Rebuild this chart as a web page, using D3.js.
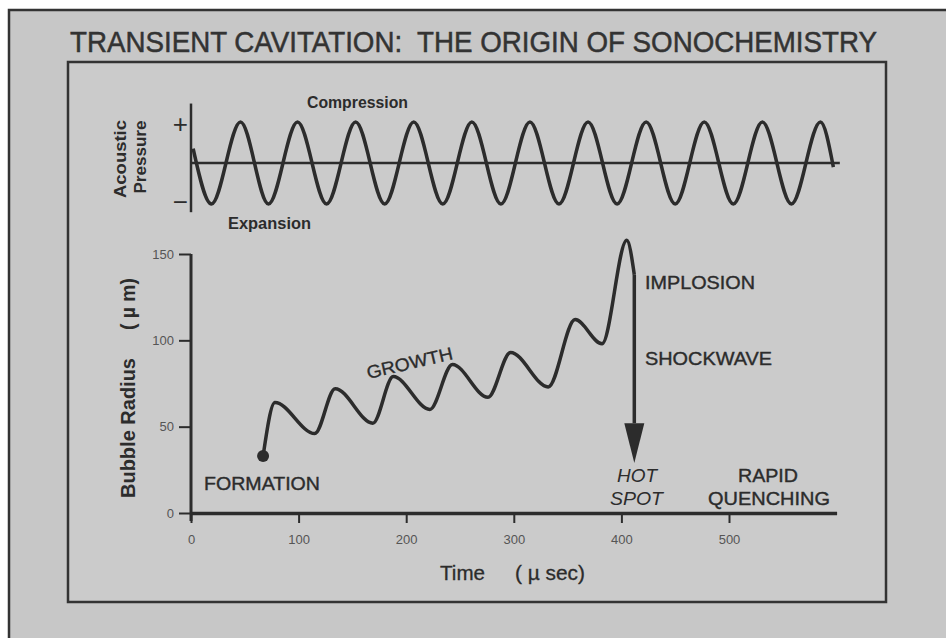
<!DOCTYPE html>
<html>
<head>
<meta charset="utf-8">
<script src="https://cdn.jsdelivr.net/npm/d3@7"></script>
<style>
  html, body { margin: 0; padding: 0; background: #fff; }
  svg { display: block; font-family: "Liberation Sans", Arial, sans-serif; }
  text { white-space: pre; }
</style>
</head>
<body>
<div id="chart"></div>
<script>
// values
const timeTicks = [0, 100, 200, 300, 400, 500];
const radiusTicks = [0, 50, 100, 150];

// acoustic pressure: turning points of the wave (time in µs, relative pressure)
const pressureTime = [2, 19, 46, 72, 99, 126, 153, 180, 207, 234, 261, 288, 315, 342, 369, 396, 423, 450, 477, 504, 531, 558, 585, 597];
const pressureValue = [0.35, -1, 1, -1, 1, -1, 1, -1, 1, -1, 1, -1, 1, -1, 1, -1, 1, -1, 1, -1, 1, -1, 1, -0.1];
const pressureTicks = [0.95, -0.95];
const pressureLabels = ["+", "\u2212"];

// bubble radius (µm) against time (µs)
const radiusTime = [67, 78, 115, 134, 169, 188, 222, 243, 276, 297, 332, 357, 382, 405, 412];
const radiusValue = [33, 64, 46, 72, 52, 79, 60, 86, 67, 93, 73, 112, 98, 158, 138];
// implosion arrow: from - to radius at the collapse time
const collapseTime = 412;
const collapseFrom = 138, collapseTo = 29, headFrom = 52;

const width = 946, height = 638;
const ink = "#2c2c2c";

const svg = d3.select("#chart").append("svg")
  .attr("width", width)
  .attr("height", height);

// paper
svg.append("rect").attr("width", width).attr("height", height).attr("fill", "#fff");
svg.append("rect").attr("x", 9).attr("y", 10).attr("width", width - 9).attr("height", height - 10)
  .attr("fill", "#c7c7c7");
svg.append("path").attr("d", `M9,${height} L9,10 L${width},10`)
  .attr("fill", "none").attr("stroke", "#333").attr("stroke-width", 2.5);

// title
svg.append("text")
  .attr("x", 70).attr("y", 52)
  .attr("font-size", 29)
  .attr("fill", "#333").attr("stroke", "#333").attr("stroke-width", 0.5)
  .attr("textLength", 807)
  .attr("lengthAdjust", "spacingAndGlyphs")
  .text("TRANSIENT CAVITATION:  THE ORIGIN OF SONOCHEMISTRY");

// inner panel
svg.append("rect")
  .attr("x", 68).attr("y", 62).attr("width", 818).attr("height", 540)
  .attr("fill", "#cbcbcb")
  .attr("stroke", "#333").attr("stroke-width", 2.5);

// scales
const x = d3.scaleLinear().domain([0, 600]).range([191, 836.6]);
const yP = d3.scaleLinear().domain([-1, 1]).range([204, 122]);
const yR = d3.scaleLinear().domain([0, 150]).range([513, 254]);

// ---- acoustic pressure panel ----
svg.append("line")
  .attr("x1", x(0)).attr("x2", x(0))
  .attr("y1", yP(1.45)).attr("y2", yP(-1.2))
  .attr("stroke", ink).attr("stroke-width", 2.5);

svg.append("line")
  .attr("x1", x(0)).attr("x2", x(603))
  .attr("y1", yP(0)).attr("y2", yP(0))
  .attr("stroke", ink).attr("stroke-width", 2.5);

svg.selectAll(".ptick")
  .data(pressureTicks)
  .enter().append("text")
  .attr("class", "ptick")
  .attr("x", x(0) - 3)
  .attr("y", d => yP(d))
  .attr("dy", "0.35em")
  .attr("text-anchor", "end")
  .attr("font-size", 26)
  .attr("fill", ink)
  .text((d, i) => pressureLabels[i]);

const pressurePts = pressureTime.map((t, i) => [t, pressureValue[i]]);
svg.append("path")
  .datum(pressurePts)
  .attr("fill", "none")
  .attr("stroke", ink)
  .attr("stroke-width", 3.5)
  .attr("d", d3.line().x(d => x(d[0])).y(d => yP(d[1])).curve(d3.curveMonotoneX));

svg.append("text").attr("x", 307).attr("y", 108)
  .attr("font-size", 17).attr("font-weight", "bold").attr("fill", ink)
  .attr("textLength", 101).attr("lengthAdjust", "spacingAndGlyphs")
  .text("Compression");
svg.append("text").attr("x", 228).attr("y", 229)
  .attr("font-size", 17).attr("font-weight", "bold").attr("fill", ink)
  .attr("textLength", 83).attr("lengthAdjust", "spacingAndGlyphs")
  .text("Expansion");

svg.append("text")
  .attr("transform", "translate(126,159) rotate(-90)")
  .attr("text-anchor", "middle")
  .attr("font-size", 17).attr("font-weight", "bold").attr("fill", ink)
  .attr("textLength", 78).attr("lengthAdjust", "spacingAndGlyphs")
  .text("Acoustic");
svg.append("text")
  .attr("transform", "translate(146,157) rotate(-90)")
  .attr("text-anchor", "middle")
  .attr("font-size", 17).attr("font-weight", "bold").attr("fill", ink)
  .attr("textLength", 73).attr("lengthAdjust", "spacingAndGlyphs")
  .text("Pressure");

// ---- bubble radius panel ----
const yAxis = svg.append("g")
  .attr("transform", `translate(${x(0)},0)`)
  .call(d3.axisLeft(yR).tickValues(radiusTicks).tickSize(12).tickSizeOuter(0).tickPadding(5));
yAxis.select(".domain").attr("stroke", ink).attr("stroke-width", 3)
  .attr("d", `M0,${yR(0) + 8}V${yR(150)}`);
yAxis.selectAll(".tick line").attr("stroke", ink).attr("stroke-width", 2);
yAxis.selectAll(".tick text").attr("font-size", 13).attr("fill", "#555")
  .attr("font-family", "Liberation Sans, Arial, sans-serif");

const xAxis = svg.append("g")
  .attr("transform", `translate(0,${yR(0)})`)
  .call(d3.axisBottom(x).tickValues(timeTicks).tickSize(10).tickSizeOuter(0).tickPadding(12));
xAxis.select(".domain").attr("stroke", ink).attr("stroke-width", 3.5);
xAxis.selectAll(".tick line").attr("stroke", ink).attr("stroke-width", 2);
xAxis.selectAll(".tick text").attr("font-size", 13).attr("fill", "#555")
  .attr("font-family", "Liberation Sans, Arial, sans-serif");

const radiusPts = radiusTime.map((t, i) => [t, radiusValue[i]]);
svg.append("path")
  .datum(radiusPts)
  .attr("fill", "none")
  .attr("stroke", ink)
  .attr("stroke-width", 3.5)
  .attr("stroke-linejoin", "round")
  .attr("d", d3.line().x(d => x(d[0])).y(d => yR(d[1])).curve(d3.curveMonotoneX));

svg.append("circle")
  .attr("cx", x(radiusTime[0])).attr("cy", yR(radiusValue[0]))
  .attr("r", 6).attr("fill", ink);

// implosion arrow
svg.append("line")
  .attr("x1", x(collapseTime)).attr("x2", x(collapseTime))
  .attr("y1", yR(collapseFrom)).attr("y2", yR(headFrom))
  .attr("stroke", ink).attr("stroke-width", 3.5);
svg.append("path")
  .attr("d", `M${x(collapseTime) - 10},${yR(headFrom)} L${x(collapseTime) + 10},${yR(headFrom)} L${x(collapseTime)},${yR(collapseTo)} Z`)
  .attr("fill", ink);

// annotations
const notes = [
  { t: "FORMATION", x: 204, y: 490, w: 116 },
  { t: "IMPLOSION", x: 645, y: 289, w: 110 },
  { t: "SHOCKWAVE", x: 645, y: 365, w: 127 },
  { t: "RAPID", x: 738, y: 482, w: 60 },
  { t: "QUENCHING", x: 708, y: 505, w: 122 }
];
svg.selectAll(".note")
  .data(notes)
  .enter().append("text")
  .attr("class", "note")
  .attr("x", d => d.x).attr("y", d => d.y)
  .attr("font-size", 19).attr("fill", ink)
  .attr("stroke", ink).attr("stroke-width", 0.4)
  .attr("textLength", d => d.w).attr("lengthAdjust", "spacingAndGlyphs")
  .text(d => d.t);

svg.append("text").attr("x", 617).attr("y", 482)
  .attr("font-size", 19).attr("font-style", "italic").attr("fill", ink)
  .attr("textLength", 40).attr("lengthAdjust", "spacingAndGlyphs")
  .text("HOT");
svg.append("text").attr("x", 610).attr("y", 505)
  .attr("font-size", 19).attr("font-style", "italic").attr("fill", ink)
  .attr("textLength", 53).attr("lengthAdjust", "spacingAndGlyphs")
  .text("SPOT");

svg.append("text")
  .attr("transform", "translate(411,369) rotate(-13)")
  .attr("text-anchor", "middle")
  .attr("font-size", 18).attr("fill", ink)
  .attr("stroke", ink).attr("stroke-width", 0.3)
  .attr("textLength", 88).attr("lengthAdjust", "spacingAndGlyphs")
  .text("GROWTH");

// axis titles
svg.append("text")
  .attr("transform", "translate(135,428) rotate(-90)")
  .attr("text-anchor", "middle")
  .attr("font-size", 20).attr("font-weight", "bold").attr("fill", ink)
  .attr("textLength", 140).attr("lengthAdjust", "spacingAndGlyphs")
  .text("Bubble Radius");
svg.append("text")
  .attr("transform", "translate(135,304) rotate(-90)")
  .attr("text-anchor", "middle")
  .attr("font-size", 20).attr("font-weight", "bold").attr("fill", ink)
  .attr("textLength", 52).attr("lengthAdjust", "spacingAndGlyphs")
  .text("( \u00b5 m)");

svg.append("text").attr("x", 440).attr("y", 580)
  .attr("font-size", 20).attr("fill", ink)
  .attr("stroke", ink).attr("stroke-width", 0.3)
  .attr("textLength", 45).attr("lengthAdjust", "spacingAndGlyphs")
  .text("Time");
svg.append("text").attr("x", 515).attr("y", 580)
  .attr("font-size", 20).attr("fill", ink)
  .attr("stroke", ink).attr("stroke-width", 0.3)
  .attr("textLength", 70).attr("lengthAdjust", "spacingAndGlyphs")
  .text("( \u00b5 sec)");
</script>
</body>
</html>
